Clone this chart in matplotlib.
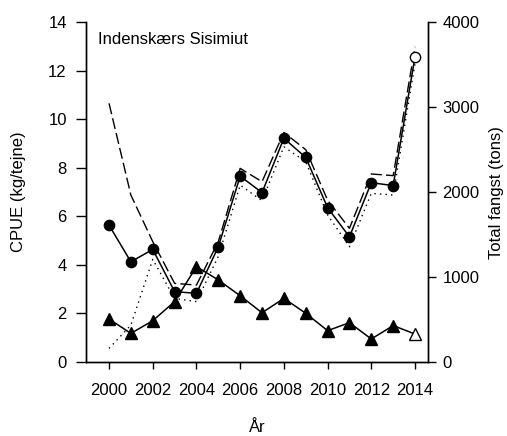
import matplotlib
matplotlib.use("Agg")
import matplotlib.pyplot as plt

plt.rcParams['font.family'] = ['Liberation Sans', 'DejaVu Sans']

years = list(range(2000, 2015))
cpue = [5.64, 4.13, 4.64, 2.90, 2.83, 4.75, 7.66, 6.98, 9.22, 8.43, 6.36, 5.16, 7.39, 7.27, 12.58]
cpue_upper = [10.66, 6.88, 4.96, 3.24, 3.17, 4.96, 7.98, 7.43, 9.46, 8.75, 6.67, 5.51, 7.75, 7.68, 12.99]
cpue_lower = [0.56, 1.52, 4.23, 2.62, 2.49, 4.35, 7.29, 6.65, 8.87, 8.25, 6.06, 4.75, 6.95, 6.88, 12.3]
catch_tons = [506, 337, 486, 711, 1123, 966, 780, 580, 749, 574, 369, 463, 271, 429, 329]

xticks = [2000, 2002, 2004, 2006, 2008, 2010, 2012, 2014]
yticks_left = [0, 2, 4, 6, 8, 10, 12, 14]
yticks_right = [0, 1000, 2000, 3000, 4000]

W, H = 507, 436
fig = plt.figure(figsize=(W / 100, H / 100), dpi=100)
ax = fig.add_axes([86.3 / W, 1 - 362 / H, (427.7 - 86.3) / W, (362 - 22.3) / H])
ax2 = ax.twinx()

# CPUE with confidence bounds
ax.plot(years, cpue_upper, color='black', lw=1.0, dashes=(8, 3))
ax.plot(years, cpue_lower, color='black', lw=1.0, dashes=(1, 3))
ax.plot(years, cpue, color='black', lw=1.1)
ax.plot(years[:-1], cpue[:-1], 'o', color='black', ms=7.4, ls='none')
ax.plot(years[-1:], cpue[-1:], 'o', mfc='white', mec='black', mew=1.0, ms=7.4, ls='none')

# total catch
ax2.plot(years, catch_tons, color='black', lw=1.1)
ax2.plot(years[:-1], catch_tons[:-1], '^', color='black', ms=8.2, ls='none')
ax2.plot(years[-1:], catch_tons[-1:], '^', mfc='white', mec='black', mew=1.0, ms=8.2, ls='none')

ax.set_xlim(1998.96, 2014.58)
ax.set_ylim(0, 14)
ax2.set_ylim(0, 4000)

ax.set_xticks(xticks)
ax.set_yticks(yticks_left)
ax2.set_yticks(yticks_right)

for a in (ax, ax2):
    a.spines['top'].set_visible(False)
    for s in a.spines.values():
        s.set_linewidth(1.0)
ax.tick_params(axis='x', direction='out', length=5, width=1.0, pad=10, labelsize=12)
ax.tick_params(axis='y', direction='out', length=7, width=1.0, pad=7, labelsize=12)
ax2.tick_params(axis='y', direction='out', length=5.5, width=1.0, pad=5, labelsize=12)

aw = 427.7 - 86.3
ah = 362 - 22.3
ax.set_ylabel('CPUE (kg/tejne)', fontsize=12, va='center', ha='center')
ax.yaxis.set_label_coords(-(86.3 - 18) / aw, 0.5)
ax2.set_ylabel('Total fangst (tons)', fontsize=12, va='center', ha='center')
ax2.yaxis.set_label_coords(1 + (497 - 427.7) / aw, 0.5)
ax.set_xlabel('År', fontsize=12, va='center', ha='center')
ax.xaxis.set_label_coords(0.5, -(427 - 362) / ah)

ax.text(98 / W, 1 - 40 / H, 'Indenskærs Sisimiut', transform=fig.transFigure,
        fontsize=12, ha='left', va='center')

fig.savefig('out.png', dpi=100)
